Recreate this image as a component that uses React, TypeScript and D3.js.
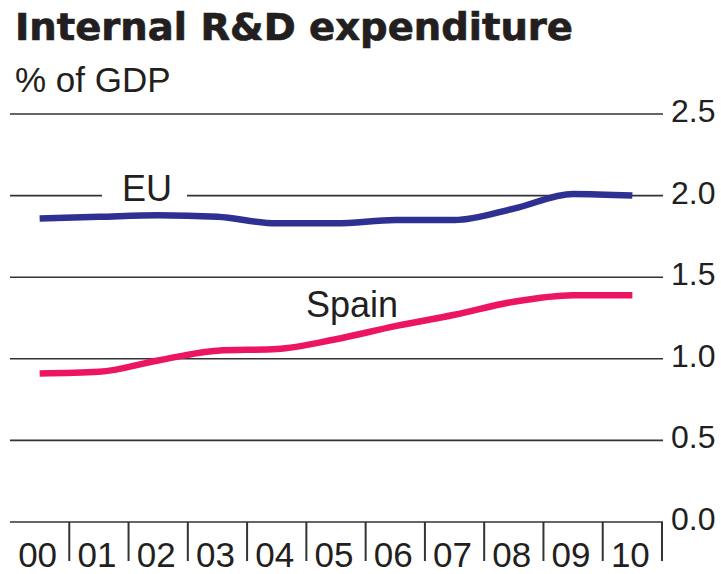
import React from "react";
import * as d3 from "d3";

const years = ["00", "01", "02", "03", "04", "05", "06", "07", "08", "09", "10"];
const euValues = [1.86, 1.87, 1.88, 1.87, 1.83, 1.83, 1.85, 1.85, 1.92, 2.01, 2.0];
const spainValues = [0.91, 0.92, 0.99, 1.05, 1.06, 1.12, 1.2, 1.27, 1.35, 1.39, 1.39];
const yTicks = [0, 0.5, 1.0, 1.5, 2.0, 2.5];

const W = 721;
const H = 574;
const left = 10;
const right = 662;
const y0 = 522;
const yTop = 114;

const EU_COLOR = "#2e3192";
const SPAIN_COLOR = "#ec1562";
const TEXT = "#231f20";
const GRID = "#333333";

export default function App() {
  const x = d3.scaleBand<string>().domain(years).range([left, right]).padding(0);
  const y = d3.scaleLinear().domain([0, 2.5]).range([y0, yTop]);
  const cx = (d: string) => (x(d) as number) + x.bandwidth() / 2;

  const line = d3
    .line<number>()
    .x((_, i) => cx(years[i]))
    .y((v) => y(v))
    .curve(d3.curveMonotoneX);

  const boundaries = years.map((d) => (x(d) as number) + x.bandwidth());

  return (
    <svg
      width={W}
      height={H}
      style={{ position: "absolute", left: 0, top: 0, background: "#fff" }}
      fontFamily="'Liberation Sans', Arial, sans-serif"
    >
      <text
        x={15}
        y={40}
        fontFamily="'DejaVu Sans', sans-serif"
        fontWeight="bold"
        fontSize={37}
        fill={TEXT}
        stroke={TEXT}
        strokeWidth={0.7}
        textLength={558}
        lengthAdjust="spacingAndGlyphs"
      >
        Internal R&amp;D expenditure
      </text>
      <text x={15} y={92} fontSize={35} fill={TEXT}>
        % of GDP
      </text>

      {yTicks.map((t) => (
        <g key={t}>
          <line x1={left} x2={right + 1} y1={y(t)} y2={y(t)} stroke={GRID} strokeWidth={1.6} />
          <text x={671} y={y(t) + 8} fontSize={32} fill={TEXT}>
            {t.toFixed(1)}
          </text>
        </g>
      ))}

      {boundaries.map((b, i) => (
        <line key={i} x1={b} x2={b} y1={y0} y2={561} stroke={GRID} strokeWidth={2} />
      ))}

      {years.map((d) => (
        <text key={d} x={cx(d) - 2} y={567} fontSize={35} fill={TEXT} textAnchor="middle">
          {d}
        </text>
      ))}

      <rect x={102} y={y(2.0) - 4} width={85} height={8} fill="#fff" />
      <text x={147} y={201} fontSize={36} fill={TEXT} textAnchor="middle">
        EU
      </text>
      <text x={306} y={317} fontSize={36} fill={TEXT}>
        Spain
      </text>

      <path d={line(euValues) || ""} fill="none" stroke={EU_COLOR} strokeWidth={6.5} />
      <path d={line(spainValues) || ""} fill="none" stroke={SPAIN_COLOR} strokeWidth={6.5} />
    </svg>
  );
}
